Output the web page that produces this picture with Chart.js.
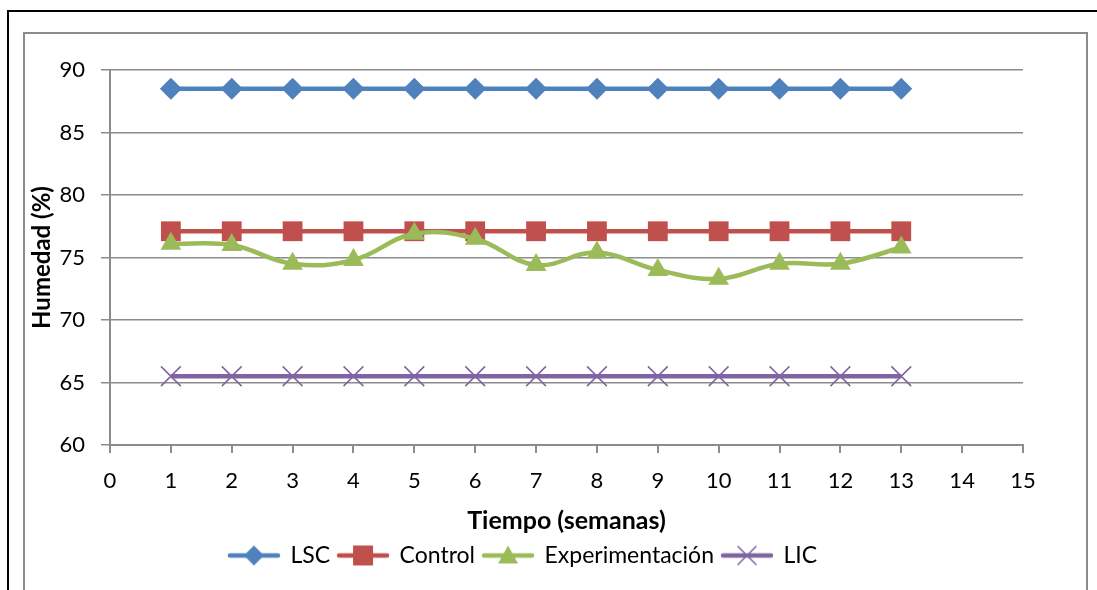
<!DOCTYPE html>
<html>
<head>
    <title>Humedad (%) vs Tiempo</title>
    <script src="https://cdn.jsdelivr.net/npm/chart.js"></script>
    <style>
        body { margin: 0; background: #fff; }
    </style>
</head>
<body>
    <canvas id="myChart" width="1097" height="590"></canvas>
    <script>
        const semanas = [1, 2, 3, 4, 5, 6, 7, 8, 9, 10, 11, 12, 13];
        const lsc = [88.5, 88.5, 88.5, 88.5, 88.5, 88.5, 88.5, 88.5, 88.5, 88.5, 88.5, 88.5, 88.5];
        const control = [77.1, 77.1, 77.1, 77.1, 77.1, 77.1, 77.1, 77.1, 77.1, 77.1, 77.1, 77.1, 77.1];
        const experimentacion = [76.1, 76.0, 74.5, 74.8, 76.9, 76.5, 74.4, 75.4, 74.0, 73.3, 74.5, 74.5, 75.8];
        const lic = [65.5, 65.5, 65.5, 65.5, 65.5, 65.5, 65.5, 65.5, 65.5, 65.5, 65.5, 65.5, 65.5];

        const FONT = 'Lato, "Open Sans", sans-serif';
        const GRAY = '#8c8c8c';

        const pts = arr => arr.map((v, i) => ({ x: semanas[i], y: v }));

        // legend swatch: a line with the marker in the middle
        function swatch(color, style) {
            const c = document.createElement('canvas');
            c.width = 54; c.height = 24;
            const g = c.getContext('2d');
            g.strokeStyle = color; g.fillStyle = color;
            g.lineWidth = 4.5; g.lineCap = 'round';
            g.beginPath(); g.moveTo(3, 12); g.lineTo(51, 12); g.stroke();
            const cx = 27, cy = 12;
            g.beginPath();
            if (style === 'rectRot') {
                g.moveTo(cx, cy - 10); g.lineTo(cx + 10, cy); g.lineTo(cx, cy + 10); g.lineTo(cx - 10, cy); g.closePath(); g.fill();
            } else if (style === 'rect') {
                g.fillRect(cx - 10, cy - 10, 20, 20);
            } else if (style === 'triangle') {
                g.moveTo(cx, cy - 10); g.lineTo(cx + 10, cy + 8); g.lineTo(cx - 10, cy + 8); g.closePath(); g.fill();
            } else {
                g.lineWidth = 1.5;
                g.moveTo(cx - 9, cy - 9); g.lineTo(cx + 9, cy + 9);
                g.moveTo(cx + 9, cy - 9); g.lineTo(cx - 9, cy + 9); g.stroke();
            }
            return c;
        }

        const frames = {
            id: 'frames',
            beforeDraw(chart) {
                const ctx = chart.ctx;
                ctx.save();
                ctx.fillStyle = '#fff';
                ctx.fillRect(0, 0, chart.width, chart.height);
                ctx.strokeStyle = '#000';
                ctx.lineWidth = 2;
                ctx.strokeRect(8, 11, 1200, 700);
                ctx.strokeStyle = GRAY;
                ctx.lineWidth = 2;
                ctx.strokeRect(24, 33, 1063, 700);
                ctx.restore();
            }
        };

        const series = [
            { label: 'LSC', data: lsc, color: '#4F81BD', style: 'rectRot', radius: 11, tension: 0 },
            { label: 'Control', data: control, color: '#C0504D', style: 'rect', radius: 14, tension: 0 },
            { label: 'Experimentación', data: experimentacion, color: '#9BBB59', style: 'triangle', radius: 12, tension: 0.4 },
            { label: 'LIC', data: lic, color: '#8064A2', style: 'crossRot', radius: 14, tension: 0 }
        ];

        const ctx = document.getElementById('myChart').getContext('2d');
        const myChart = new Chart(ctx, {
            type: 'line',
            data: {
                datasets: series.map((s, i) => ({
                    label: s.label,
                    data: pts(s.data),
                    order: series.length - i,   // later series drawn on top, like Excel
                    borderColor: s.color,
                    backgroundColor: s.color,
                    pointBackgroundColor: s.color,
                    pointBorderColor: s.color,
                    pointStyle: s.style,
                    pointRadius: s.radius,
                    pointBorderWidth: s.style === 'crossRot' ? 1.5 : 0,
                    borderWidth: 4.5,
                    tension: s.tension,
                    cubicInterpolationMode: 'default',
                    fill: false,
                    legendSwatch: swatch(s.color, s.style)
                }))
            },
            options: {
                responsive: false,
                animation: false,
                layout: { padding: { left: 23, right: 74, top: 70, bottom: 13 } },
                plugins: {
                    tooltip: { enabled: false },
                    legend: {
                        position: 'bottom',
                        labels: {
                            usePointStyle: true,
                            pointStyleWidth: 50,
                            padding: 8,
                            color: '#000',
                            font: { family: FONT, size: 23 },
                            generateLabels(chart) {
                                return chart.data.datasets.map((d, i) => ({
                                    text: d.label,
                                    pointStyle: d.legendSwatch,
                                    fillStyle: d.borderColor,
                                    strokeStyle: d.borderColor,
                                    lineWidth: 0,
                                    datasetIndex: i,
                                    hidden: false
                                }));
                            }
                        }
                    }
                },
                scales: {
                    x: {
                        type: 'linear',
                        min: 0,
                        max: 15,
                        afterFit(scale) { scale.height = 91; },
                        ticks: { stepSize: 1, color: '#000', padding: 15, font: { family: FONT, size: 22 } },
                        grid: { drawOnChartArea: false, drawTicks: true, tickLength: 8, color: GRAY, lineWidth: 2 },
                        border: { color: GRAY, width: 2 },
                        title: {
                            display: true,
                            text: 'Tiempo (semanas)',
                            color: '#000',
                            font: { family: FONT, size: 25, weight: 'bold' },
                            padding: { top: 4, bottom: 0 }
                        }
                    },
                    y: {
                        min: 60,
                        max: 90,
                        afterFit(scale) { scale.width = 87; },
                        ticks: { stepSize: 5, color: '#000', padding: 16, font: { family: FONT, size: 22 } },
                        grid: { color: GRAY, lineWidth: 1.5, drawTicks: true, tickLength: 9 },
                        border: { color: GRAY, width: 2 },
                        title: {
                            display: true,
                            text: 'Humedad (%)',
                            color: '#000',
                            font: { family: FONT, size: 24, weight: 'bold' },
                            padding: { top: 5, bottom: 0 }
                        }
                    }
                }
            },
            plugins: [frames]
        });
    </script>
</body>
</html>
